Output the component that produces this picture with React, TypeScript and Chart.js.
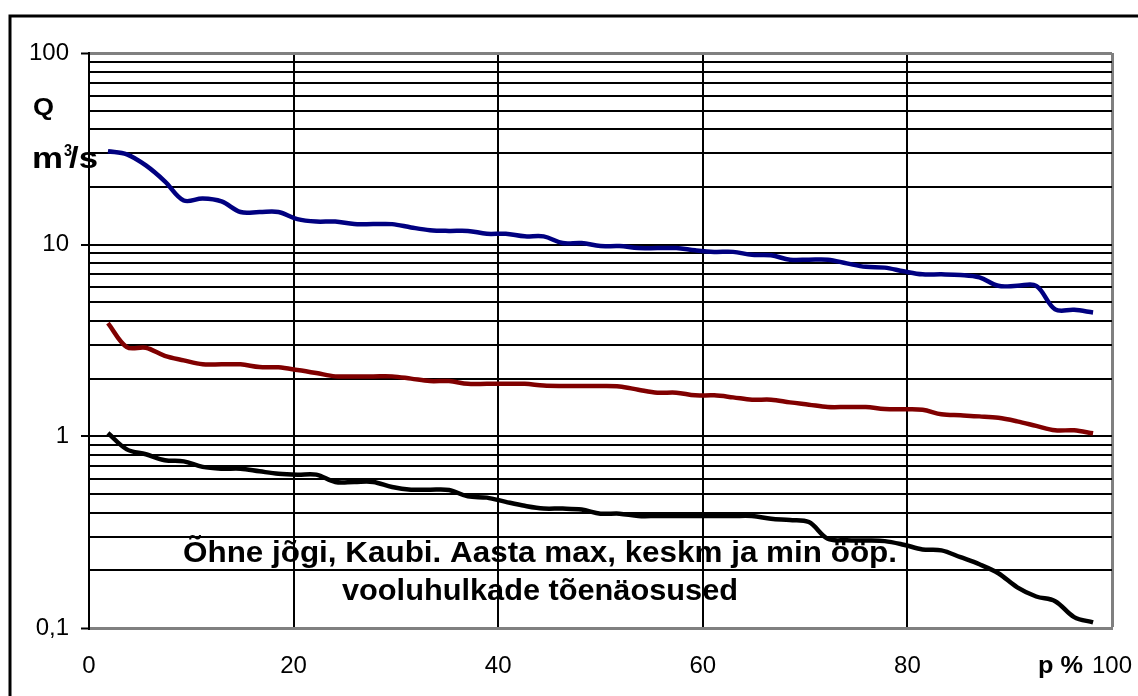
import React, { useEffect, useRef } from 'react';
import { Chart, registerables } from 'chart.js';

Chart.register(...registerables);

// Exceedance probability p % of each ranked value (53 years)
const probabilities = [
  1.85, 3.7, 5.56, 7.41, 9.26, 11.11, 12.96, 14.81, 16.67, 18.52,
  20.37, 22.22, 24.07, 25.93, 27.78, 29.63, 31.48, 33.33, 35.19, 37.04,
  38.89, 40.74, 42.59, 44.44, 46.3, 48.15, 50.0, 51.85, 53.7, 55.56,
  57.41, 59.26, 61.11, 62.96, 64.81, 66.67, 68.52, 70.37, 72.22, 74.07,
  75.93, 77.78, 79.63, 81.48, 83.33, 85.19, 87.04, 88.89, 90.74, 92.59,
  94.44, 96.3, 98.15,
];

// Annual maximum daily discharge, m3/s
const maxFlow = [
  30.7, 29.6, 25.9, 21.4, 17.0, 17.4, 16.8, 14.8, 14.8, 14.8,
  13.6, 13.2, 13.2, 12.8, 12.8, 12.8, 12.3, 11.9, 11.8, 11.8,
  11.4, 11.4, 11.05, 11.05, 10.2, 10.2, 9.83, 9.83, 9.6, 9.6,
  9.6, 9.34, 9.17, 9.17, 8.85, 8.8, 8.35, 8.35, 8.35, 7.99,
  7.66, 7.59, 7.26, 7.0, 7.0, 6.95, 6.75, 6.1, 6.1, 6.1,
  4.6, 4.57, 4.43,
];

// Annual mean discharge, m3/s
const meanFlow = [
  3.9, 2.92, 2.9, 2.63, 2.49, 2.375, 2.375, 2.375, 2.3, 2.29,
  2.22, 2.14, 2.055, 2.055, 2.055, 2.055, 2.0, 1.943, 1.943, 1.88,
  1.88, 1.88, 1.88, 1.84, 1.83, 1.83, 1.83, 1.82, 1.75, 1.69,
  1.69, 1.636, 1.636, 1.597, 1.553, 1.553, 1.504, 1.463, 1.422, 1.422,
  1.422, 1.388, 1.383, 1.375, 1.303, 1.287, 1.271, 1.249, 1.197, 1.134,
  1.075, 1.075, 1.037,
];

// Annual minimum daily discharge, m3/s
const minFlow = [
  1.04, 0.855, 0.806, 0.75, 0.74, 0.693, 0.678, 0.678, 0.657, 0.638,
  0.631, 0.631, 0.578, 0.578, 0.578, 0.544, 0.527, 0.527, 0.525, 0.486,
  0.479, 0.455, 0.434, 0.42, 0.42, 0.415, 0.395, 0.395, 0.384, 0.384,
  0.384, 0.384, 0.384, 0.384, 0.384, 0.372, 0.366, 0.357, 0.292, 0.287,
  0.286, 0.284, 0.272, 0.257, 0.254, 0.234, 0.215, 0.193, 0.163, 0.146,
  0.138, 0.114, 0.107,
];

const yMajorTicks = [0.1, 1, 10, 100];
const yTickLabels = ['0,1', '1', '10', '100'];
const yGridValues = [
  0.1, 0.2, 0.3, 0.4, 0.5, 0.6, 0.7, 0.8, 0.9,
  1, 2, 3, 4, 5, 6, 7, 8, 9,
  10, 20, 30, 40, 50, 60, 70, 80, 90,
  100,
];
const xTickValues = [0, 20, 40, 60, 80, 100];

const titleLine1 = 'Õhne jõgi, Kaubi. Aasta max, keskm ja min ööp.';
const titleLine2 = 'vooluhulkade tõenäosused';

const FONT = "'Liberation Sans', Arial, sans-serif";

function drawFit(ctx: CanvasRenderingContext2D, text: string, x: number, y: number, width: number, font: string) {
  ctx.save();
  ctx.font = font;
  const w = ctx.measureText(text).width;
  const s = width / w;
  ctx.translate(x, y);
  ctx.scale(s, 1);
  ctx.textAlign = 'left';
  ctx.textBaseline = 'alphabetic';
  ctx.fillStyle = '#000';
  ctx.fillText(text, 0, 0);
  ctx.restore();
}

const decorPlugin = {
  id: 'decor',
  afterDraw(chart: any) {
    const ctx: CanvasRenderingContext2D = chart.ctx;
    // outer frame
    ctx.save();
    ctx.strokeStyle = '#000';
    ctx.lineWidth = 3;
    ctx.strokeRect(10, 16, 1300, 900);
    ctx.restore();
    // title inside plot
    drawFit(ctx, titleLine1, 183, 562, 714, `bold 29px ${FONT}`);
    drawFit(ctx, titleLine2, 342, 600, 396, `bold 29px ${FONT}`);
    // axis titles
    drawFit(ctx, 'Q', 33, 115, 21, `bold 23px ${FONT}`);
    drawFit(ctx, 'm', 32, 168, 31, `bold 30px ${FONT}`);
    drawFit(ctx, '3', 64, 156, 8, `bold 17px ${FONT}`);
    drawFit(ctx, '/s', 69, 168, 29, `bold 30px ${FONT}`);
    drawFit(ctx, 'p %', 1038, 673, 45, `bold 24px ${FONT}`);
  },
};

function toPoints(values: number[]) {
  return probabilities.map((p, i) => ({ x: p, y: values[i] }));
}

export default function App() {
  const canvasRef = useRef<HTMLCanvasElement | null>(null);

  useEffect(() => {
    const canvas = canvasRef.current;
    if (!canvas) return;
    const isBorder = (v: number) => v === 100 || v === 0.1;
    const chart = new Chart(canvas, {
      type: 'line',
      data: {
        datasets: [
          { label: 'max', data: toPoints(maxFlow), borderColor: '#000080' },
          { label: 'keskm', data: toPoints(meanFlow), borderColor: '#800000' },
          { label: 'min', data: toPoints(minFlow), borderColor: '#000000' },
        ].map((d) => ({
          ...d,
          borderWidth: 4.5,
          pointRadius: 0,
          tension: 0.35,
          fill: false,
          borderJoinStyle: 'round' as const,
        })),
      },
      options: {
        responsive: false,
        animation: false,
        events: [],
        layout: { padding: { top: 53, right: 26, left: 0, bottom: 0 } },
        plugins: {
          legend: { display: false },
          tooltip: { enabled: false },
          title: { display: false },
        },
        scales: {
          x: {
            type: 'linear',
            min: 0,
            max: 100,
            afterBuildTicks: (scale: any) => {
              scale.ticks = xTickValues.map((v) => ({ value: v }));
            },
            afterFit: (scale: any) => {
              scale.height = 68;
              scale.paddingLeft = 0;
              scale.paddingRight = 0;
            },
            ticks: {
              color: '#000',
              font: { family: FONT, size: 24 },
              padding: 24,
              maxRotation: 0,
              autoSkip: false,
            },
            grid: {
              color: (c: any) => (c.tick && c.tick.value === 100 ? '#808080' : '#000'),
              lineWidth: (c: any) => (c.tick && c.tick.value === 100 ? 3 : 2),
              drawTicks: false,
            },
            border: { display: true, color: '#808080', width: 3 },
          },
          y: {
            type: 'logarithmic',
            min: 0.1,
            max: 100,
            afterBuildTicks: (scale: any) => {
              scale.ticks = yGridValues.map((v) => ({ value: v }));
            },
            afterFit: (scale: any) => {
              scale.width = 89;
              scale.paddingTop = 0;
              scale.paddingBottom = 0;
            },
            ticks: {
              color: '#000',
              font: { family: FONT, size: 24 },
              padding: 12,
              autoSkip: false,
              callback: (value: any) => {
                const idx = yMajorTicks.indexOf(Number(value));
                return idx >= 0 ? yTickLabels[idx] : '';
              },
            },
            grid: {
              color: (c: any) => (c.tick && c.tick.value === 100 ? '#808080' : '#000'),
              lineWidth: (c: any) => (c.tick && isBorder(c.tick.value) ? 3 : 2),
              drawTicks: true,
              tickLength: 8,
              tickWidth: 2,
              tickColor: (c: any) =>
                c.tick && yMajorTicks.indexOf(c.tick.value) >= 0 ? '#000' : 'rgba(0,0,0,0)',
            },
            border: { display: true, color: '#000', width: 2 },
          },
        },
      },
      plugins: [decorPlugin],
    } as any);
    return () => chart.destroy();
  }, []);

  return (
    <div style={{ position: 'fixed', left: 0, top: 0, width: 1138, height: 696, background: '#fff' }}>
      <canvas ref={canvasRef} width={1138} height={696} style={{ display: 'block' }} />
    </div>
  );
}
